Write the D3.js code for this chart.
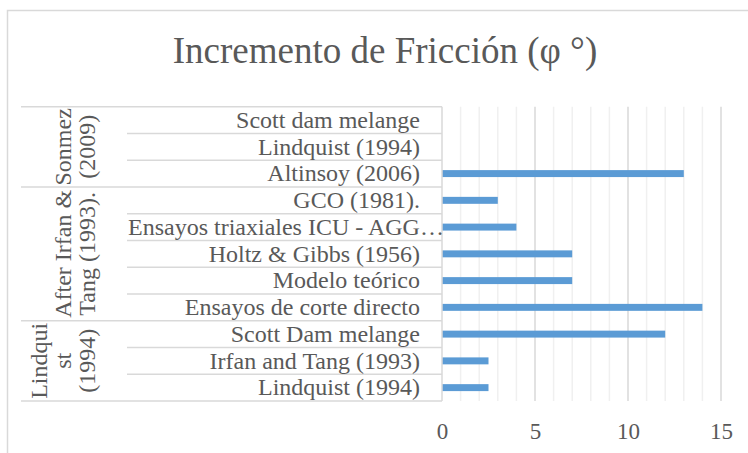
<!DOCTYPE html>
<meta charset="utf-8">
<style>
  body { margin: 0; background: #fff; }
  text { font-family: "Liberation Serif", "Times New Roman", serif; fill: #595959; }
</style>
<body>
  <div id="box1"></div>
</body>
<script src="https://d3js.org/d3.v7.min.js"></script>
<script>

// categories top to bottom, as in the chart
var categories = ["Scott dam melange", "Lindquist (1994)", "Altinsoy (2006)", "GCO (1981).",
                  "Ensayos triaxiales ICU - AGG…", "Holtz & Gibbs (1956)", "Modelo teórico",
                  "Ensayos de corte directo", "Scott Dam melange", "Irfan and Tang (1993)", "Lindquist (1994)"]
var values = [0, 0, 13, 3, 4, 7, 7, 14, 12, 2.5, 2.5]

// outer level of the category axis
var groupNames = ["Sonmez (2009)", "After Irfan & Tang (1993).", "Lindquist (1994)"]
var groupLines = [["Sonmez", "(2009)"], ["After Irfan &", "Tang (1993)."], ["Lindqui", "st", "(1994)"]]
var groupSizes = [3, 5, 3]

var xTicks = [0, 5, 10, 15]
var title = "Incremento de Fricción (φ °)"

var width = 748, height = 453
var margin = {top: 106.7, right: 27, bottom: 52, left: 442}

var x = d3.scaleLinear()
    .domain([0, 15])
    .range([margin.left, width - margin.right])

var rows = d3.scaleBand()
    .domain(d3.range(categories.length))
    .range([margin.top, height - margin.bottom])

var y = d3.scaleBand()
    .domain(d3.range(categories.length))
    .range([margin.top, height - margin.bottom])
    .paddingInner(0.74)
    .paddingOuter(0.37)

var svg = d3.select('#box1').append("svg")
    .attr("width", width)
    .attr("height", height)

// chart border
svg.append("rect")
    .attr("x", 7.5).attr("y", 10.5)
    .attr("width", width + 20).attr("height", height + 20)
    .attr("fill", "none")
    .attr("stroke", "#d9d9d9")
    .attr("stroke-width", 1.5)

svg.append("text")
    .attr("x", 385).attr("y", 63)
    .attr("text-anchor", "middle")
    .style("font-size", "37px")
    .text(title)

// gridlines
var gridVals = d3.range(1, 16)
svg.append("g").selectAll("line")
    .data(gridVals)
    .join("line")
      .attr("x1", d => x(d)).attr("x2", d => x(d))
      .attr("y1", margin.top).attr("y2", height - margin.bottom)
      .attr("stroke", d => d % 5 == 0 ? "#d9d9d9" : "#f0f0f0")
      .attr("stroke-width", 1.5)

// bars
svg.append("g")
    .attr("fill", "#5b9bd5")
  .selectAll("rect")
  .data(values)
  .join("rect")
    .attr("x", x(0))
    .attr("y", (d, i) => y(i))
    .attr("width", d => x(d) - x(0))
    .attr("height", y.bandwidth())

// category separators
var sepG = svg.append("g").attr("stroke", "#d9d9d9").attr("stroke-width", 1.5)
var groupStarts = [0]
groupSizes.forEach((s, i) => groupStarts.push(groupStarts[i] + s))

d3.range(categories.length + 1).forEach(function(i) {
  var yy = i < categories.length ? rows(i) : rows(categories.length - 1) + rows.bandwidth()
  var isGroup = groupStarts.indexOf(i) >= 0
  sepG.append("line")
      .attr("x1", isGroup ? 21 : 127).attr("x2", x(0))
      .attr("y1", yy).attr("y2", yy)
})
sepG.append("line")
    .attr("x1", x(0)).attr("x2", x(0))
    .attr("y1", margin.top).attr("y2", height - margin.bottom)

// category labels
svg.append("g").selectAll("text")
  .data(categories)
  .join("text")
    .attr("x", 420)
    .attr("y", (d, i) => rows(i) + rows.bandwidth() / 2)
    .attr("dy", "0.32em")
    .attr("text-anchor", "end")
    .style("font-size", "24px")
    .text(d => d)
    .each(function() {
      if (this.getComputedTextLength() > 420 - 128) {
        d3.select(this).attr("x", 128).attr("text-anchor", "start")
      }
    })

// group labels, rotated
groupNames.forEach(function(g, gi) {
  var y0 = rows(groupStarts[gi])
  var y1 = rows(groupStarts[gi] + groupSizes[gi] - 1) + rows.bandwidth()
  var cy = (y0 + y1) / 2
  var lines = groupLines[gi]
  lines.forEach(function(l, li) {
    var bx = 95 - (lines.length - 1 - li) * 24
    svg.append("text")
        .attr("transform", "translate(" + bx + "," + cy + ") rotate(-90)")
        .attr("text-anchor", "middle")
        .style("font-size", "24px")
        .text(l)
  })
})

// x axis labels
var xAxis = svg.append("g")
    .attr("transform", "translate(0," + (height - margin.bottom) + ")")
    .call(d3.axisBottom(x).tickValues(xTicks).tickSize(0))
xAxis.select(".domain").remove()
xAxis.selectAll("text")
    .attr("y", 38).attr("dy", 0)
    .style("font-size", "23px")
    .style("font-family", "Liberation Serif")
    .attr("fill", "#595959")

</script>
